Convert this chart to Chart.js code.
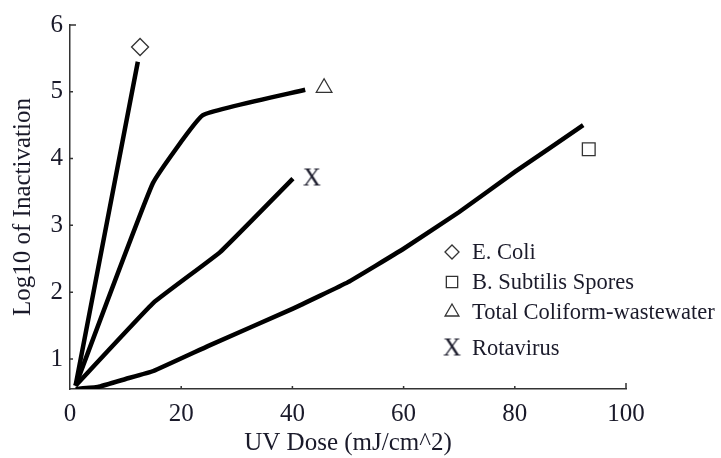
<!DOCTYPE html>
<html>
<head>
<meta charset="utf-8">
<script src="https://cdn.jsdelivr.net/npm/chart.js@4.4.0/dist/chart.umd.min.js"></script>
<style>
body { margin: 0; background: #fff; }
</style>
</head>
<body>
<canvas id="grafico" width="721" height="458"></canvas>
<script>
// Datos (dosis UV en mJ/cm^2, log10 de inactivacion)
const dosisEColi = [1, 12.2];
const logEColi = [0.6, 5.45];

const dosisSubtilis = [1, 5, 10, 15, 25, 40, 50, 60, 70, 80, 92.3];
const logSubtilis = [0.55, 0.58, 0.7, 0.82, 1.2, 1.75, 2.15, 2.65, 3.2, 3.8, 4.5];

const dosisColiforme = [1, 14.9, 23.9, 42.3];
const logColiforme = [0.6, 3.63, 4.65, 5.03];

const dosisRotavirus = [1, 15, 27, 40.1];
const logRotavirus = [0.6, 1.84, 2.6, 3.7];

// marcadores al final de cada curva
const nombres = ['E. Coli', 'B. Subtilis Spores', 'Total Coliform-wastewater', 'Rotavirus'];
const marcaDosis = [12.6, 93.3, 45.7, 43.5];
const marcaLog = [5.67, 4.14, 5.06, 3.71];

const ticksX = [0, 20, 40, 60, 80, 100];
const ticksY = [1, 2, 3, 4, 5, 6];

const colorTexto = '#1a1a2a';
const fuente = 'Liberation Serif';

// la "X" de Rotavirus es una letra, se dibuja en un canvas pequeño
function letra_x(tam) {
    const c = document.createElement('canvas');
    c.width = tam; c.height = tam + 2;
    const g = c.getContext('2d');
    g.fillStyle = colorTexto;
    g.font = tam + 'px "' + fuente + '"';
    g.textAlign = 'center';
    g.textBaseline = 'middle';
    g.fillText('X', tam / 2, tam / 2 + 2);
    return c;
}

function puntos(xs, ys) {
    return xs.map((x, i) => ({ x: x, y: ys[i] }));
}

function linea(xs, ys) {
    return {
        data: puntos(xs, ys),
        showLine: true,
        borderColor: '#000',
        borderWidth: 4.5,
        pointRadius: 0,
        tension: 0.1
    };
}

const estilos = ['rectRot', 'rect', 'triangle', letra_x(25)];
const estilosLeyenda = ['rectRot', 'rect', 'triangle', letra_x(25)];
const radios = [8.5, 9, 9, 12];
const radiosLeyenda = [7, 8, 8, 12];

const marcas = nombres.map((n, i) => ({
    label: n,
    data: [{ x: marcaDosis[i], y: marcaLog[i] }],
    pointStyle: estilos[i],
    pointRadius: radios[i],
    backgroundColor: '#fff',
    borderColor: '#333',
    borderWidth: 1.3,
    showLine: false
}));

// ticks hacia adentro y leyenda dibujada a mano
const extras = {
    id: 'extras',
    afterDraw(chart) {
        const ctx = chart.ctx;
        const sx = chart.scales.x, sy = chart.scales.y;
        ctx.save();
        ctx.strokeStyle = '#333';
        ctx.lineWidth = 1.5;
        ctx.beginPath();
        ticksX.slice(1).forEach(v => {
            const px = sx.getPixelForValue(v);
            const largo = v === 100 ? 6 : 3;
            ctx.moveTo(px, sy.bottom);
            ctx.lineTo(px, sy.bottom - largo);
        });
        ticksY.forEach(v => {
            const py = sy.getPixelForValue(v);
            ctx.moveTo(sx.left, py);
            ctx.lineTo(sx.left + (v === 6 ? 6 : 3), py);
        });
        ctx.stroke();

        const posY = [252, 282, 312, 348];
        ctx.font = '22.5px "' + fuente + '"';
        ctx.textBaseline = 'middle';
        ctx.textAlign = 'left';
        nombres.forEach((n, i) => {
            ctx.fillStyle = '#fff';
            ctx.strokeStyle = '#333';
            ctx.lineWidth = 1.3;
            Chart.helpers.drawPoint(ctx, { pointStyle: estilosLeyenda[i], radius: radiosLeyenda[i], rotation: 0, borderWidth: 1.3 }, 452, posY[i]);
            ctx.fillStyle = colorTexto;
            ctx.fillText(n, 472, posY[i] + 1);
        });
        ctx.restore();
    }
};

Chart.defaults.font.family = fuente;
Chart.defaults.color = colorTexto;

const grafico = new Chart(document.getElementById('grafico'), {
    type: 'scatter',
    data: {
        datasets: [
            linea(dosisEColi, logEColi),
            linea(dosisSubtilis, logSubtilis),
            linea(dosisColiforme, logColiforme),
            linea(dosisRotavirus, logRotavirus)
        ].concat(marcas)
    },
    options: {
        responsive: false,
        animation: false,
        layout: { padding: { left: 0, top: 25, right: 95, bottom: 0 } },
        plugins: {
            legend: { display: false },
            tooltip: { enabled: false }
        },
        scales: {
            x: {
                type: 'linear',
                min: 0,
                max: 100,
                afterFit: s => { s.height = 69; },
                afterBuildTicks: s => { s.ticks = ticksX.map(v => ({ value: v })); },
                grid: { display: false, drawTicks: false },
                border: { display: true, color: '#333', width: 1.5 },
                ticks: { font: { size: 25, lineHeight: 1.2 }, padding: 10, maxRotation: 0 },
                title: {
                    display: true,
                    text: 'UV Dose (mJ/cm^2)',
                    font: { size: 25, lineHeight: 1.2 },
                    padding: { top: 0, bottom: 0 }
                }
            },
            y: {
                type: 'linear',
                min: 0.55,
                max: 6,
                afterFit: s => { s.width = 70; },
                afterBuildTicks: s => { s.ticks = ticksY.map(v => ({ value: v })); },
                grid: { display: false, drawTicks: false },
                border: { display: true, color: '#333', width: 1.5 },
                ticks: { font: { size: 25, lineHeight: 1.2 }, padding: 7 },
                title: {
                    display: true,
                    text: 'Log10 of Inactivation',
                    font: { size: 25, lineHeight: 1.2 },
                    padding: { top: 8, bottom: 0 }
                }
            }
        }
    },
    plugins: [extras]
});
</script>
</body>
</html>
